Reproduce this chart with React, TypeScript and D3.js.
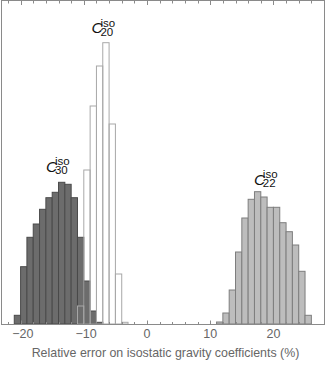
import React from "react";
import * as d3 from "d3";

// Histogram bins (left edge, width 1 %) and frequencies
const c30Bins = [-21, -20, -19, -18, -17, -16, -15, -14, -13, -12, -11, -10, -9, -8];
const c30Counts = [8.7, 57.3, 86.7, 100, 114.7, 126.3, 131.7, 141.7, 139.7, 126.3, 86.7, 43, 13, 1.7];

const c20Bins = [-11, -10, -9, -8, -7, -6, -5, -4];
const c20Counts = [18, 154, 218, 258, 281.3, 200, 50, 1.7];

const c22Bins = [11, 12, 13, 14, 15, 16, 17, 18, 19, 20, 21, 22, 23, 24, 25];
const c22Counts = [2, 11, 34, 72, 106, 124.7, 132.3, 127, 116.7, 116.7, 101.3, 92.3, 79, 52.7, 8.7];

const labelNames = ["30", "20", "22"];
const labelX = [-14.1, -6.9, 18.8];
const labelY = [152.3, 290.7, 139];

const majorTicks = [-20, -10, 0, 10, 20];
const minorTicks = d3.range(-22, 29, 2);

const W = 327;
const H = 367;
const FONT = "'Liberation Sans', Arial, Helvetica, sans-serif";

export default function App() {
  const x = d3.scaleLinear().domain([-23.1, 28.0]).range([1, 324]);
  const y = d3.scaleLinear().domain([0, 323]).range([324, 1]);

  const bars = (bins: number[], counts: number[], fill: string, stroke: string, key: string) =>
    bins.map((b, i) => (
      <rect
        key={key + i}
        x={x(b)}
        y={y(counts[i])}
        width={x(b + 1) - x(b)}
        height={y(0) - y(counts[i])}
        fill={fill}
        stroke={stroke}
        strokeWidth={1}
      />
    ));

  const left = 1.5;
  const right = 324.5;
  const top = 0.5;
  const bottom = 324.5;

  return (
    <svg width={W} height={H} style={{ position: "absolute", left: 0, top: 0, background: "#fff" }}>
      {bars(c30Bins, c30Counts, "#6c6c6c", "#4a4a4a", "c30")}
      {bars(c22Bins, c22Counts, "#bdbdbd", "#7e7e7e", "c22")}
      {bars(c20Bins, c20Counts, "none", "#a8a8a8", "c20")}

      {/* frame */}
      <rect x={left} y={top} width={right - left} height={bottom - top} fill="none" stroke="#8a8a8a" strokeWidth={1} />

      {/* ticks */}
      {minorTicks.map((t) => {
        const isMajor = t % 10 === 0;
        const px = Math.round(x(t)) + 0.5;
        return (
          <g key={"t" + t} stroke="#8a8a8a" strokeWidth={1}>
            <line x1={px} x2={px} y1={bottom} y2={bottom - (isMajor ? 4 : 2.5)} />
            <line x1={px} x2={px} y1={top} y2={top + (isMajor ? 4.5 : 3)} />
          </g>
        );
      })}

      {/* tick labels */}
      {majorTicks.map((t) => (
        <text
          key={"l" + t}
          x={x(t) + (t < 0 ? 2.2 : 0)}
          y={338}
          textAnchor="middle"
          fontFamily={FONT}
          fontSize={12.5}
          fill="#666"
        >
          {t < 0 ? "\u2212" + Math.abs(t) : String(t)}
        </text>
      ))}

      {/* axis title */}
      <text x={165.5} y={356.5} textAnchor="middle" fontFamily={FONT} fontSize={12.4} fill="#666">
        Relative error on isostatic gravity coefficients (%)
      </text>

      {/* series labels */}
      {labelNames.map((n, i) => {
        const cx = x(labelX[i]);
        const cy = y(labelY[i]);
        return (
          <text key={"lab" + n} x={cx - 11.8} y={cy} fontFamily={FONT} fill="#111" fontSize={15.5}>
            <tspan fontStyle="italic">C</tspan>
            <tspan x={cx - 3} dy={-6.6} fontSize={11.5}>
              iso
            </tspan>
            <tspan x={cx - 3} dy={9} fontSize={11.5}>
              {n}
            </tspan>
          </text>
        );
      })}
    </svg>
  );
}
